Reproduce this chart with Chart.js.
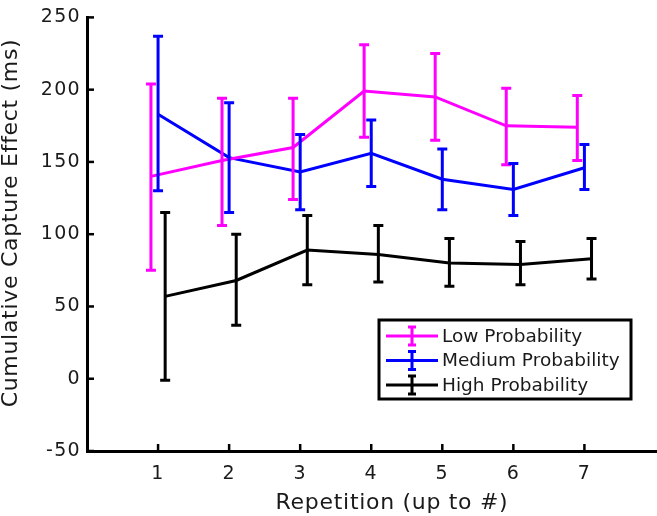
<!DOCTYPE html>
<html>
<head>
<meta charset="utf-8">
<script src="https://cdn.jsdelivr.net/npm/chart.js@4"></script>
<style>
  html, body { margin: 0; padding: 0; background: #fff; overflow: hidden; }
  #wrap { width: 691px; height: 516px; }
</style>
</head>
<body>
<div id="wrap"><canvas id="chart" width="691" height="516"></canvas></div>
<script>
const repetitions = [1, 2, 3, 4, 5, 6, 7];
const seriesNames = ["Low Probability", "Medium Probability", "High Probability"];
const seriesColors = ["#ff00ff", "#0000ff", "#000000"];
const seriesOffsets = [-0.1, 0, 0.1];

const lowMean = [140, 151, 160, 199, 195, 175, 174];
const lowUpper = [204, 194, 194, 231, 225, 201, 196];
const lowLower = [75, 106, 124, 167, 165, 148, 151];

const medMean = [183, 153, 143, 156, 138, 131, 146];
const medUpper = [237, 191, 169, 179, 159, 149, 162];
const medLower = [130, 115, 117, 133, 117, 113, 131];

const highMean = [57, 68, 89, 86, 80, 79, 83];
const highUpper = [115, 100, 113, 106, 97, 95, 97];
const highLower = [-1, 37, 65, 67, 64, 65, 69];

const yTicks = [-50, 0, 50, 100, 150, 200, 250];
const xTicks = [1, 2, 3, 4, 5, 6, 7];
const xTitle = "Repetition (up to #)";
const yTitle = "Cumulative Capture Effect (ms)";

const means = [lowMean, medMean, highMean];
const uppers = [lowUpper, medUpper, highUpper];
const lowers = [lowLower, medLower, highLower];

const FONT = "DejaVu Sans";
const INK = "#1a1a1a";

const datasets = seriesNames.map((name, s) => ({
  label: name,
  data: repetitions.map((r, i) => ({ x: r + seriesOffsets[s], y: means[s][i] })),
  borderColor: seriesColors[s],
  backgroundColor: seriesColors[s],
  borderWidth: 3,
  showLine: true,
  pointRadius: 0,
  fill: false,
}));

// tick labels in the reference are a bit loosely spaced
const spacing = {
  id: "spacing",
  beforeDraw(chart) { chart.ctx.letterSpacing = "1.3px"; },
};

// error bars with caps
const errorBars = {
  id: "errorBars",
  afterDatasetsDraw(chart) {
    const { ctx, scales: { x, y } } = chart;
    ctx.save();
    ctx.lineWidth = 3;
    ctx.lineCap = "butt";
    seriesNames.forEach((_, s) => {
      ctx.strokeStyle = seriesColors[s];
      repetitions.forEach((r, i) => {
        const px = x.getPixelForValue(r + seriesOffsets[s]);
        const top = y.getPixelForValue(uppers[s][i]);
        const bot = y.getPixelForValue(lowers[s][i]);
        ctx.beginPath();
        ctx.moveTo(px, top); ctx.lineTo(px, bot);
        ctx.moveTo(px - 5, top); ctx.lineTo(px + 5, top);
        ctx.moveTo(px - 5, bot); ctx.lineTo(px + 5, bot);
        ctx.stroke();
      });
    });
    ctx.restore();
  },
};

// inward ticks + axis titles, matlab style
const axisExtras = {
  id: "axisExtras",
  afterDraw(chart) {
    const { ctx, chartArea, scales: { x, y } } = chart;
    ctx.save();
    ctx.strokeStyle = "#000";
    ctx.lineWidth = 2.5;
    xTicks.forEach(t => {
      const px = x.getPixelForValue(t);
      ctx.beginPath();
      ctx.moveTo(px, chartArea.bottom);
      ctx.lineTo(px, chartArea.bottom - 7);
      ctx.stroke();
    });
    yTicks.forEach(t => {
      const py = y.getPixelForValue(t);
      ctx.beginPath();
      ctx.moveTo(chartArea.left, py);
      ctx.lineTo(chartArea.left + 7, py);
      ctx.stroke();
    });

    ctx.letterSpacing = "0.7px";
    ctx.font = "22px '" + FONT + "'";
    ctx.fillStyle = INK;
    ctx.textAlign = "center";
    ctx.textBaseline = "middle";
    ctx.fillText(xTitle, 392, 503);
    ctx.translate(11, 223);
    ctx.rotate(-Math.PI / 2);
    ctx.fillText(yTitle, 0, 0);
    ctx.restore();
  },
};

// legend box inside the axes
const boxLegend = {
  id: "boxLegend",
  afterDraw(chart) {
    const { ctx } = chart;
    const bx = 379, by = 320, bw = 252, bh = 79, rowH = 24.5;
    ctx.save();
    ctx.fillStyle = "#fff";
    ctx.fillRect(bx, by, bw, bh);
    ctx.strokeStyle = "#000";
    ctx.lineWidth = 3;
    ctx.strokeRect(bx, by, bw, bh);
    ctx.letterSpacing = "0px";
    ctx.font = "18.5px '" + FONT + "'";
    ctx.textAlign = "left";
    ctx.textBaseline = "middle";
    seriesNames.forEach((name, s) => {
      const cy = by + 16 + s * rowH;
      ctx.strokeStyle = seriesColors[s];
      ctx.lineWidth = 3;
      ctx.beginPath();
      ctx.moveTo(386, cy); ctx.lineTo(438, cy);
      ctx.moveTo(412, cy - 9); ctx.lineTo(412, cy + 9);
      ctx.moveTo(408, cy - 9); ctx.lineTo(416, cy - 9);
      ctx.moveTo(408, cy + 9); ctx.lineTo(416, cy + 9);
      ctx.stroke();
      ctx.fillStyle = INK;
      ctx.fillText(name, 442, cy + 1);
    });
    ctx.restore();
  },
};

new Chart(document.getElementById("chart"), {
  type: "scatter",
  data: { datasets },
  plugins: [spacing, errorBars, axisExtras, boxLegend],
  options: {
    responsive: false,
    animation: false,
    layout: { padding: { top: 7, left: 0, right: 0, bottom: 0 } },
    plugins: { legend: { display: false }, tooltip: { enabled: false } },
    scales: {
      x: {
        type: "linear",
        min: 0,
        max: 8.5,
        afterBuildTicks(scale) { scale.ticks = xTicks.map(v => ({ value: v })); },
        afterFit(scale) { scale.height = 65; },
        ticks: { color: INK, font: { family: FONT, size: 19 }, padding: 12 },
        grid: { display: false, drawTicks: false },
        border: { display: true, color: "#000", width: 3 },
      },
      y: {
        type: "linear",
        min: -50,
        max: 250,
        afterBuildTicks(scale) { scale.ticks = yTicks.map(v => ({ value: v })); },
        afterFit(scale) { scale.width = 87; },
        ticks: { color: INK, font: { family: FONT, size: 19 }, padding: 6 },
        grid: { display: false, drawTicks: false },
        border: { display: true, color: "#000", width: 3 },
      },
    },
  },
});
</script>
</body>
</html>
